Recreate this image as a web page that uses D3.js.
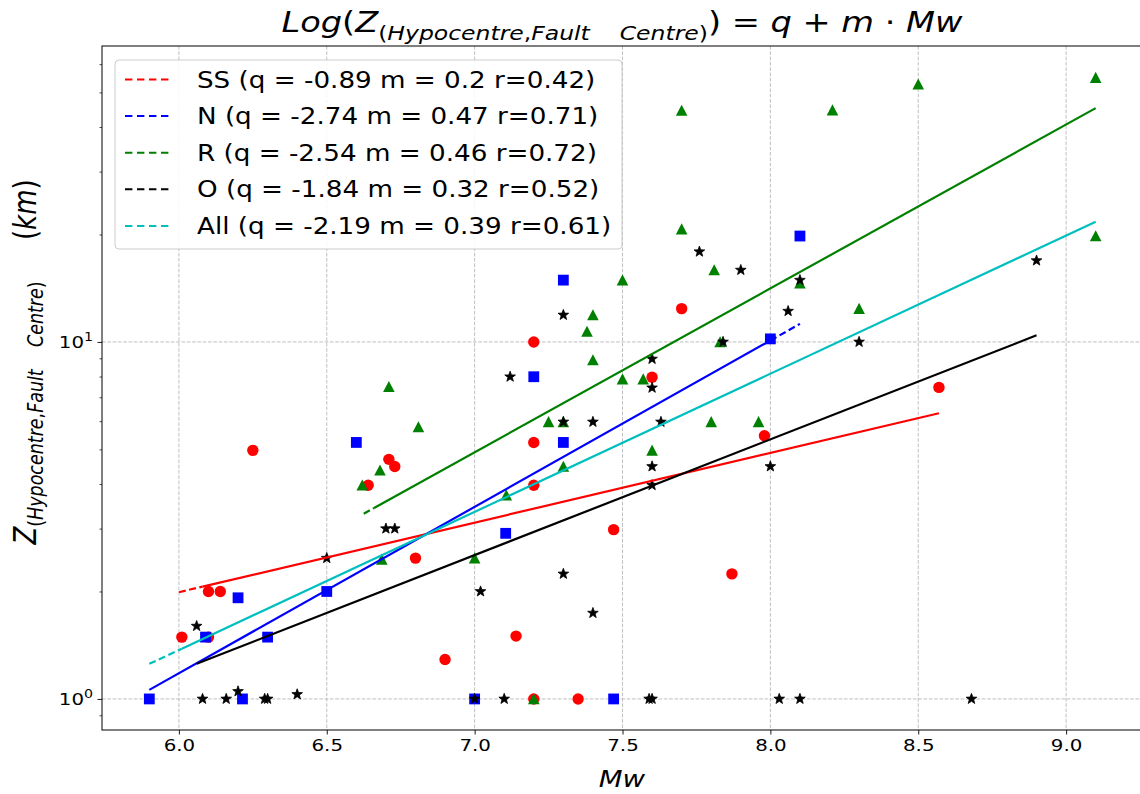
<!DOCTYPE html>
<html>
<head>
<meta charset="utf-8">
<script src="https://cdn.jsdelivr.net/npm/d3@7"></script>
<style>
  html, body { margin: 0; padding: 0; background: #fff; }
  text { font-family: "DejaVu Sans", sans-serif; white-space: pre; }
</style>
</head>
<body>
<svg id="chart" width="1140" height="794"></svg>
<script>
// ---------------- data ----------------
const xTicks = [6.0, 6.5, 7.0, 7.5, 8.0, 8.5, 9.0];
const yMajorTicks = [1, 10];
const yMinorTicks = [0.9, 2, 3, 4, 5, 6, 7, 8, 9, 20, 30, 40, 50, 60];

// SS : strike-slip (red circles)
const ssMw = [6.01, 6.10, 6.10, 6.14, 6.25, 6.64, 6.71, 6.73, 6.80, 6.90, 7.14, 7.20, 7.20, 7.20, 7.20, 7.35, 7.47, 7.60, 7.70, 7.87, 7.98, 8.57];
const ssZ  = [1.49, 1.49, 2.00, 2.00, 4.97, 3.97, 4.69, 4.48, 2.48, 1.29, 1.50, 10.0, 5.23, 3.97, 1.00, 1.00, 2.98, 7.96, 12.4, 2.24, 5.46, 7.46];

// N : normal (blue squares)
const nMw = [5.90, 6.09, 6.20, 6.215, 6.30, 6.50, 6.60, 7.00, 7.105, 7.20, 7.30, 7.30, 7.47, 8.00, 8.10];
const nZ  = [1.00, 1.49, 1.92, 1.00, 1.49, 2.00, 5.23, 1.00, 2.91, 7.99, 14.9, 5.23, 1.00, 10.2, 19.8];

// R : reverse (green triangles)
const rMw = [6.62, 6.68, 6.686, 6.71, 6.81, 7.00, 7.107, 7.20, 7.25, 7.30, 7.30, 7.38, 7.40, 7.40, 7.50, 7.50, 7.57, 7.60, 7.70, 7.70, 7.80, 7.81, 7.83, 7.96, 8.10, 8.21, 8.30, 8.50, 9.10, 9.10];
const rZ  = [3.97, 4.37, 2.46, 7.49, 5.78, 2.48, 3.72, 1.00, 5.97, 5.97, 4.48, 10.7, 11.9, 8.90, 14.9, 7.87, 7.87, 4.97, 44.5, 20.7, 5.97, 15.9, 10.0, 5.97, 14.6, 44.6, 12.4, 52.7, 55.0, 19.8];

// O : oblique (black stars)
const oMw = [6.06, 6.08, 6.16, 6.20, 6.29, 6.30, 6.40, 6.50, 6.70, 6.73, 7.00, 7.02, 7.10, 7.12, 7.30, 7.30, 7.30, 7.40, 7.40, 7.59, 7.60, 7.60, 7.60, 7.60, 7.60, 7.63, 7.76, 7.84, 7.90, 8.00, 8.03, 8.06, 8.10, 8.10, 8.30, 8.68, 8.90];
const oZ  = [1.60, 1.00, 1.00, 1.05, 1.00, 1.00, 1.03, 2.48, 3.00, 3.00, 1.00, 2.00, 1.00, 7.99, 11.9, 5.97, 2.24, 5.97, 1.74, 1.00, 1.00, 8.96, 7.44, 4.48, 3.97, 5.97, 17.9, 10.0, 15.9, 4.48, 1.00, 12.2, 14.9, 1.00, 10.0, 1.00, 16.9];

// regression lines  log10(Z) = q + m*Mw
const fitLabels = [
  "SS (q = -0.89 m = 0.2 r=0.42)",
  "N (q = -2.74 m = 0.47 r=0.71)",
  "R (q = -2.54 m = 0.46 r=0.72)",
  "O (q = -1.84 m = 0.32 r=0.52)",
  "All (q = -2.19 m = 0.39 r=0.61)"
];
const fitQ = [-0.871, -2.724, -2.522, -1.865, -2.185];
const fitM = [0.195, 0.466, 0.459, 0.324, 0.387];
const fitSolidRange  = [[6.08, 8.57], [5.90, 8.00], [6.66, 9.10], [6.06, 8.90], [6.01, 9.10]];
const fitDashedRange = [[6.00, 6.08], [8.00, 8.10], [6.625, 6.66], [], [5.90, 6.01]];
const fitColors = ["#ff0000", "#0000ff", "#008000", "#000000", "#00bfbf"];

// ---------------- layout ----------------
const SX = 1.2; // horizontal glyph stretch seen in the reference
const svg = d3.select("#chart");
const L = 102, R = 1143, T = 46, B = 730;

const x = d3.scaleLinear().domain([5.74, 9.26]).range([L, R]);
const y = d3.scaleLog().domain([Math.pow(10, -0.087), Math.pow(10, 1.829)]).range([B, T]);

svg.append("rect").attr("width", 1140).attr("height", 794).attr("fill", "#fff");

// grid
const grid = svg.append("g").attr("stroke", "#b0b0b0").attr("stroke-width", 0.8)
  .attr("stroke-dasharray", "3.7,1.6").attr("fill", "none");
xTicks.forEach(v => grid.append("line").attr("x1", x(v)).attr("x2", x(v)).attr("y1", T).attr("y2", B));
yMajorTicks.forEach(v => grid.append("line").attr("x1", L).attr("x2", R).attr("y1", y(v)).attr("y2", y(v)));

// axes
const xAxis = svg.append("g").attr("transform", `translate(0,${B})`)
  .call(d3.axisBottom(x).tickValues(xTicks).tickFormat(d3.format(".1f")).tickSizeOuter(0).tickSize(4.5).tickPadding(5));
xAxis.select(".domain").remove();
xAxis.selectAll("text").style("font-size", "16.5px").style("font-family", "DejaVu Sans")
  .attr("fill", "#000").attr("transform", `scale(${SX},1)`);
xAxis.selectAll("line").attr("stroke", "#000").attr("stroke-width", 0.9);

const yAxis = svg.append("g").attr("transform", `translate(${L},0)`)
  .call(d3.axisLeft(y).tickValues(yMajorTicks).tickFormat(() => "").tickSizeOuter(0).tickSize(4.5));
yAxis.select(".domain").remove();
yAxis.selectAll("line").attr("stroke", "#000").attr("stroke-width", 0.9);
yAxis.selectAll(".tick").each(function(d) {
  const t = d3.select(this).select("text");
  t.text(null).attr("x", -7.5).attr("dy", null).attr("y", 6).attr("transform", `scale(${SX},1)`)
    .style("font-size", "16.5px").style("font-family", "DejaVu Sans").attr("fill", "#000");
  t.append("tspan").text("10");
  t.append("tspan").attr("dy", -7).style("font-size", "11.8px").text(String(Math.round(Math.log10(d))));
});
const yMinor = svg.append("g").attr("transform", `translate(${L},0)`)
  .call(d3.axisLeft(y).tickValues(yMinorTicks).tickFormat(() => "").tickSizeOuter(0).tickSize(2.5));
yMinor.select(".domain").remove();
yMinor.selectAll("line").attr("stroke", "#000").attr("stroke-width", 0.7);

// spines
svg.append("rect").attr("x", L).attr("y", T).attr("width", R - L).attr("height", B - T)
  .attr("fill", "none").attr("stroke", "#000").attr("stroke-width", 1);

// ---------------- points ----------------
function starPath(ro, ri) {
  let p = "";
  for (let i = 0; i < 10; i++) {
    const a = -Math.PI / 2 + i * Math.PI / 5;
    const r = i % 2 === 0 ? ro : ri;
    p += (i === 0 ? "M" : "L") + (r * Math.cos(a)).toFixed(2) + "," + (r * Math.sin(a)).toFixed(2);
  }
  return p + "Z";
}
const pts = svg.append("g");
d3.zip(ssMw, ssZ).forEach(([m, z]) =>
  pts.append("circle").attr("cx", x(m)).attr("cy", y(z)).attr("r", 5.7).attr("fill", "#ff0000"));
d3.zip(nMw, nZ).forEach(([m, z]) =>
  pts.append("rect").attr("x", x(m) - 5.4).attr("y", y(z) - 5.4).attr("width", 10.8).attr("height", 10.8).attr("fill", "#0000ff"));
d3.zip(rMw, rZ).forEach(([m, z]) =>
  pts.append("path").attr("transform", `translate(${x(m)},${y(z)})`).attr("d", "M0,-5.8L5.8,5.3L-5.8,5.3Z").attr("fill", "#008000"));
const star = starPath(5.6, 2.3);
d3.zip(oMw, oZ).forEach(([m, z]) =>
  pts.append("path").attr("transform", `translate(${x(m)},${y(z)})`).attr("d", star)
    .attr("fill", "#000").attr("stroke", "#000").attr("stroke-width", 0.8).attr("stroke-linejoin", "round"));

// ---------------- regression lines ----------------
const lineGen = d3.line().x(d => x(d[0])).y(d => y(d[1]));
const lines = svg.append("g").attr("fill", "none").attr("stroke-width", 2.2);
fitQ.forEach((q, i) => {
  const f = mw => Math.pow(10, q + fitM[i] * mw);
  const dr = fitDashedRange[i];
  if (dr.length) {
    lines.append("path").attr("d", lineGen(dr.map(v => [v, f(v)])))
      .attr("stroke", fitColors[i]).attr("stroke-dasharray", "7,3.5");
  }
  const sr = fitSolidRange[i];
  lines.append("path").attr("d", lineGen(sr.map(v => [v, f(v)]))).attr("stroke", fitColors[i]);
});

// ---------------- legend ----------------
const lg = svg.append("g");
lg.append("rect").attr("x", 115).attr("y", 60).attr("width", 507).attr("height", 189).attr("rx", 4)
  .attr("fill", "#fff").attr("fill-opacity", 0.85).attr("stroke", "#cccccc").attr("stroke-width", 1);
fitLabels.forEach((lab, i) => {
  const cy = 79.5 + i * 36.6;
  lg.append("line").attr("x1", 125).attr("x2", 173).attr("y1", cy).attr("y2", cy)
    .attr("stroke", fitColors[i]).attr("stroke-width", 2).attr("stroke-dasharray", "7.4,4.6");
  lg.append("text").attr("transform", `translate(197,${cy + 8}) scale(1.18,1)`)
    .style("font-size", "22.2px").attr("fill", "#000").text(lab);
});

// ---------------- title & labels ----------------
function runs(sel, items) {
  items.forEach(it => {
    const ts = sel.append("tspan").text(it.t);
    if (it.i) ts.style("font-style", "italic");
    if (it.s) ts.style("font-size", it.s + "px");
    if (it.dy) ts.attr("dy", it.dy);
  });
}
const title = svg.append("text").attr("transform", `translate(622,32) scale(${SX},1)`).attr("text-anchor", "middle")
  .style("font-size", "28px").attr("fill", "#000");
runs(title, [
  {t: "Log", i: 1}, {t: "("}, {t: "Z", i: 1},
  {t: "(", s: 19.6, dy: 8}, {t: "Hypocentre", i: 1, s: 19.6}, {t: ",", s: 19.6}, {t: "Fault    Centre", i: 1, s: 19.6}, {t: ")", s: 19.6},
  {t: ")", dy: -8}, {t: " = "}, {t: "q", i: 1}, {t: " + "}, {t: "m", i: 1}, {t: " · "}, {t: "Mw", i: 1}
]);

const xl = svg.append("text").attr("transform", `translate(622,787) scale(${SX},1)`).attr("text-anchor", "middle")
  .style("font-size", "23px").attr("fill", "#000");
runs(xl, [{t: "Mw", i: 1}]);

const yl = svg.append("text").attr("transform", `translate(36,362) scale(${SX},1) rotate(-90)`).attr("text-anchor", "middle")
  .style("font-size", "26px").attr("fill", "#000");
runs(yl, [
  {t: "Z", i: 1},
  {t: "(", s: 17.5, dy: 6}, {t: "Hypocentre", i: 1, s: 17.5}, {t: ",", s: 17.5}, {t: "Fault    Centre", i: 1, s: 17.5}, {t: ")", s: 17.5},
  {t: "     (", dy: -6}, {t: "km", i: 1}, {t: ")"}
]);
</script>
</body>
</html>
